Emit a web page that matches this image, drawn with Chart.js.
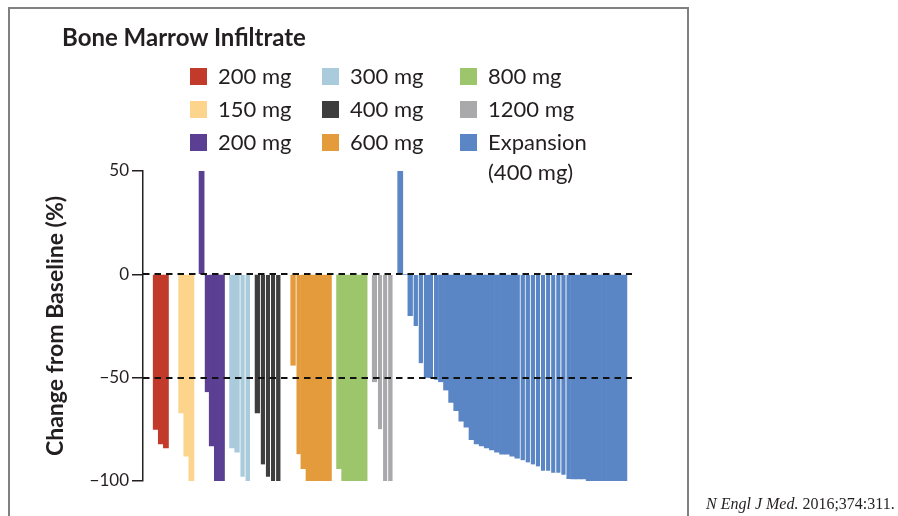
<!DOCTYPE html>
<html>
<head>
<meta charset="utf-8">
<script src="https://cdn.jsdelivr.net/npm/chart.js@4.4.1/dist/chart.umd.min.js"></script>
<style>
  html, body { margin: 0; padding: 0; background: #ffffff; }
  #wrap { position: relative; width: 898px; height: 516px; overflow: hidden;
          font-family: Lato, "Open Sans", sans-serif; color: #231f20; }
  #chart { position: absolute; left: 0; top: 0; }
  .rule { position: absolute; background: #808080; }
  #title { position: absolute; left: 62px; top: 22px; font-size: 24px; font-weight: 700;
           line-height: 30px; white-space: nowrap; }
  .key { position: absolute; height: 18px; display: flex; align-items: center;
         font-size: 22px; line-height: 18px; white-space: nowrap; }
  .key i { display: inline-block; width: 17px; height: 17px; margin-right: 11px; }
  .key2 { position: absolute; font-size: 22px; line-height: 18px; white-space: nowrap; }
  #cite { position: absolute; left: 706px; top: 495px; font-family: "Liberation Serif", "DejaVu Serif", serif;
          font-size: 16px; line-height: 18px; white-space: nowrap; color: #231f20; }
  #cite em { font-style: italic; }
</style>
</head>
<body>
<div id="wrap">
  <canvas id="chart" width="898" height="516"></canvas>
  <div class="rule" style="left:8px; top:7px; width:681px; height:1.5px;"></div>
  <div class="rule" style="left:8px; top:7px; width:1.5px; height:509px;"></div>
  <div class="rule" style="left:687px; top:7px; width:1.5px; height:509px;"></div>
  <div id="title">Bone Marrow Infiltrate</div>
  <div id="legend"></div>
  <div id="cite"><em>N Engl J Med.</em> 2016;374:311.</div>
</div>
<script>
// Percent change from baseline in bone marrow infiltrate, one bar per patient,
// grouped by dose cohort (each cohort sorted from best to worst response).
const cohortNames = ['200 mg', '150 mg', '200 mg', '300 mg', '400 mg', '600 mg', '800 mg', '1200 mg', 'Expansion (400 mg)'];

const dose200a  = [-75, -82, -84];
const dose150   = [-67, -88, -100];
const dose200b  = [50, -57, -83, -100, -100];
const dose300   = [-84, -86, -98, -100];
const dose400   = [-67, -92, -98, -100, -100];
const dose600   = [-44, -87, -94, -100, -100, -100, -100, -100];
const dose800   = [-94, -100, -100, -100, -100, -100];
const dose1200  = [-52, -75, -100, -100];
const expansion = [50, 0, -20, -25, -43, -50, -50, -51, -52, -56, -62, -66, -71, -74, -80, -82,
                   -83, -84, -85, -86, -87, -87, -88, -89, -90, -91, -92, -93, -95, -95, -96, -96,
                   -97, -99, -99, -99, -99, -100, -100, -100, -100, -100, -100, -100, -100];

const yTicks = [50, 0, -50, -100];
const refLines = [0, -50];

const cohortValues = [dose200a, dose150, dose200b, dose300, dose400, dose600, dose800, dose1200, expansion];

// ---- styling / layout ----
const colors = ['#c23b2a', '#fdd48c', '#5a3f93', '#a9cbdc', '#3e3e3e', '#e49b3b', '#9dc66c', '#a9a9ac', '#5b86c5'];
const emptySlotsBefore = [2, 2, 1, 1, 1, 2, 1, 1, 1];
const emptySlotsAfter = 1;
// bars drawn with a thin white seam on their left edge
const seams = [[], [], [1], [2, 3], [1, 2, 3, 4], [1], [], [1, 2, 3],
               [3, 4, 5, 7, 24, 25, 26, 27, 28, 29, 30, 31, 32, 33]];
const INK = '#231f20';

// lay every cohort out on one shared category axis
const slots = [];
const datasets = [];
let cursor = 0;
cohortValues.forEach((vals, g) => {
  cursor += emptySlotsBefore[g];
  const start = cursor;
  cursor += vals.length;
  datasets.push({ g, start, vals });
});
const total = cursor + emptySlotsAfter;
for (let i = 0; i < total; i++) slots.push('');

const chartDatasets = datasets.map(({ g, start, vals }) => {
  const data = new Array(total).fill(null);
  vals.forEach((v, k) => { data[start + k] = v; });
  return {
    label: cohortNames[g],
    data,
    backgroundColor: colors[g],
    borderColor: '#ffffff',
    borderSkipped: false,
    borderWidth: ctx => seams[g].includes(ctx.dataIndex - start)
      ? { left: 1, right: 0, top: 0, bottom: 0 } : 0,
    barPercentage: 1,
    categoryPercentage: 1,
    grouped: false
  };
});

const dashedRefLines = {
  id: 'dashedRefLines',
  afterDatasetsDraw(chart) {
    const { ctx, chartArea, scales: { y } } = chart;
    ctx.save();
    ctx.strokeStyle = '#111111';
    ctx.lineWidth = 2;
    ctx.setLineDash([6.5, 5]);
    refLines.forEach(v => {
      const py = Math.round(y.getPixelForValue(v));
      ctx.beginPath();
      ctx.moveTo(chartArea.left, py);
      ctx.lineTo(chartArea.right, py);
      ctx.stroke();
    });
    ctx.restore();
  }
};

new Chart(document.getElementById('chart'), {
  type: 'bar',
  data: { labels: slots, datasets: chartDatasets },
  options: {
    responsive: false,
    animation: false,
    devicePixelRatio: 1,
    layout: { padding: { left: 0, top: 171, right: 266, bottom: 35 } },
    plugins: { legend: { display: false }, tooltip: { enabled: false } },
    scales: {
      x: { type: 'category', display: false, offset: true, grid: { display: false } },
      y: {
        min: -100, max: 50,
        afterBuildTicks: scale => { scale.ticks = yTicks.map(v => ({ value: v })); },
        afterFit: scale => { scale.width = 143; },
        ticks: {
          color: INK, padding: 3,
          font: { family: 'Lato', size: 17 },
          callback: v => String(v).replace('-', '\u2212')
        },
        grid: { drawOnChartArea: false, drawTicks: true, tickLength: 11,
                color: INK, tickColor: INK, lineWidth: 1.5 },
        border: { display: true, color: INK, width: 1.5 },
        title: {
          display: true, text: 'Change from Baseline (%)', color: INK,
          font: { family: 'Lato', size: 23, weight: 'bold' },
          padding: { top: 42, bottom: 0 }
        }
      }
    }
  },
  plugins: [dashedRefLines]
});

// legend: three columns, filled column by column
const legend = document.getElementById('legend');
const colX = [190, 322, 460];
const rowY = [67, 100, 133];
cohortNames.forEach((name, g) => {
  const col = Math.floor(g / 3), row = g % 3;
  const el = document.createElement('div');
  el.className = 'key';
  el.style.left = colX[col] + 'px';
  el.style.top = rowY[row] + 'px';
  const sw = document.createElement('i');
  sw.style.background = colors[g];
  el.appendChild(sw);
  const parts = name.split(' (');
  el.appendChild(document.createTextNode(parts[0]));
  legend.appendChild(el);
  if (parts.length > 1) {
    const el2 = document.createElement('div');
    el2.className = 'key2';
    el2.style.left = (colX[col] + 28) + 'px';
    el2.style.top = (rowY[row] + 30) + 'px';
    el2.textContent = '(' + parts[1];
    legend.appendChild(el2);
  }
});
</script>
</body>
</html>
